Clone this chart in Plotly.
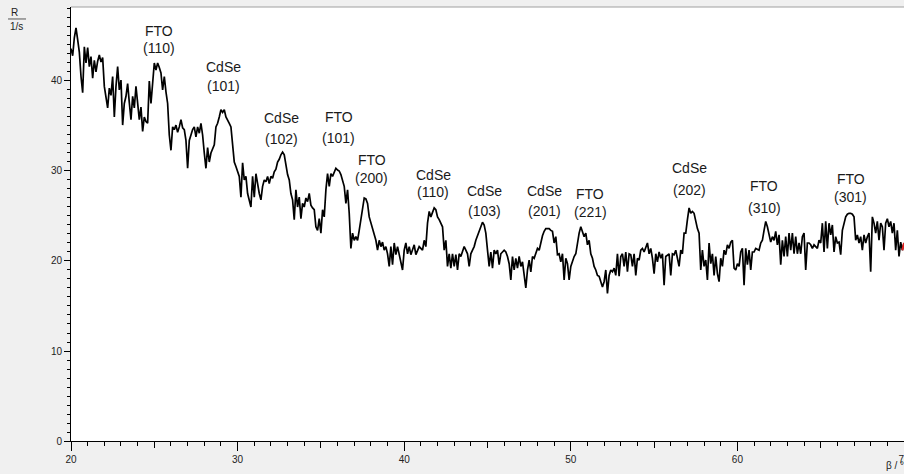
import plotly.graph_objects as go

# Diffraction scan: count rate R (1/s) sampled every 0.1 degree from 20.0 to 70.0
start_angle = 20.0
step_angle = 0.1
rate = [
    43.6, 42.8, 44.8, 45.9, 44.6, 43.2, 40.5, 38.7, 43.8, 42.0,   # 20
    43.7, 41.6, 42.7, 40.3, 42.3, 41.0, 42.2, 42.9, 42.1, 42.6,   # 21
    39.4, 38.2, 37.0, 39.2, 38.4, 40.5, 36.0, 39.4, 41.6, 39.0,   # 22
    40.1, 35.1, 37.5, 38.3, 39.7, 37.6, 35.7, 38.3, 37.0, 39.4,   # 23
    37.5, 35.7, 37.1, 34.4, 36.0, 35.5, 35.3, 40.0, 37.5, 40.2,   # 24
    42.0, 41.2, 42.0, 41.5, 40.9, 39.0, 40.5, 38.8, 37.5, 34.0,   # 25
    32.3, 34.9, 34.6, 35.1, 34.3, 34.9, 35.7, 34.8, 34.6, 33.4,   # 26
    30.3, 33.4, 34.0, 34.6, 34.9, 33.8, 34.9, 34.2, 35.3, 34.0,   # 27
    32.0, 30.3, 32.6, 31.0, 32.0, 32.4, 32.9, 34.9, 35.3, 36.0,   # 28
    36.8, 36.5, 36.8, 36.0, 35.7, 35.3, 34.9, 32.7, 31.0, 30.5,   # 29
    30.0, 29.4, 27.1, 30.9, 29.0, 29.4, 27.5, 26.8, 26.0, 29.4,   # 30
    27.1, 29.7, 28.3, 27.5, 26.8, 28.3, 29.0, 28.8, 29.4, 28.6,   # 31
    29.4, 29.2, 29.9, 30.2, 31.0, 31.3, 31.8, 32.1, 31.8, 30.5,   # 32
    29.6, 29.0, 27.5, 26.8, 24.6, 27.9, 26.0, 27.1, 24.7, 26.4,   # 33
    26.0, 27.0, 26.6, 27.5, 26.2, 25.9, 25.7, 23.8, 23.4, 24.7,   # 34
    23.1, 25.7, 24.9, 27.9, 29.7, 28.3, 29.7, 29.4, 29.9, 30.3,   # 35
    30.1, 30.0, 29.6, 28.9, 28.3, 26.4, 27.9, 25.3, 21.4, 23.1,   # 36
    22.3, 22.7, 22.3, 23.4, 24.6, 25.7, 27.0, 26.9, 26.4, 24.9,   # 37
    24.2, 23.8, 23.1, 22.3, 21.2, 22.3, 21.6, 22.1, 21.2, 21.6,   # 38
    20.8, 19.4, 21.6, 19.6, 22.0, 20.7, 21.6, 20.8, 20.0, 19.0,   # 39
    21.2, 22.0, 20.8, 21.6, 20.7, 21.2, 21.8, 20.7, 21.2, 21.6,   # 40
    21.4, 21.2, 22.3, 21.6, 24.2, 25.5, 24.9, 25.4, 25.9, 25.7,   # 41
    24.9, 24.6, 24.2, 23.8, 21.2, 22.3, 19.4, 20.8, 19.2, 20.8,   # 42
    19.4, 20.7, 19.0, 20.8, 20.5, 21.0, 21.6, 21.2, 20.8, 19.4,   # 43
    20.8, 21.2, 21.6, 22.3, 22.8, 23.4, 23.8, 24.3, 24.0, 23.1,   # 44
    21.2, 19.4, 21.0, 19.2, 21.2, 20.8, 21.2, 19.6, 20.8, 21.0,   # 45
    21.2, 21.0, 20.5, 19.7, 17.9, 20.5, 19.0, 20.3, 19.2, 20.5,   # 46
    19.4, 19.9, 18.3, 17.0, 19.0, 20.1, 18.8, 20.5, 20.3, 21.0,   # 47
    21.4, 21.2, 22.1, 22.8, 23.3, 23.6, 23.6, 23.6, 23.4, 23.3,   # 48
    22.0, 22.7, 20.7, 20.8, 19.9, 20.8, 17.9, 20.3, 19.7, 17.9,   # 49
    19.4, 20.1, 20.5, 20.8, 22.0, 23.1, 23.8, 23.3, 22.7, 23.1,   # 50
    21.8, 22.3, 20.8, 20.3, 19.4, 19.0, 18.4, 18.3, 17.7, 17.1,   # 51
    17.7, 19.0, 16.4, 18.4, 19.0, 18.8, 19.2, 18.4, 20.8, 18.3,   # 52
    20.5, 20.8, 19.4, 21.0, 18.8, 20.8, 20.7, 19.4, 20.8, 18.4,   # 53
    20.3, 20.1, 21.2, 21.4, 21.0, 21.6, 22.0, 20.8, 21.4, 20.3,   # 54
    18.6, 20.8, 19.9, 21.0, 20.3, 20.8, 17.3, 20.5, 20.7, 20.8,   # 55
    18.4, 20.8, 20.7, 21.2, 20.3, 19.4, 21.2, 20.8, 23.1, 23.1,   # 56
    24.6, 25.9, 25.3, 25.5, 25.3, 24.2, 23.6, 23.1, 19.0, 21.2,   # 57
    19.4, 20.1, 17.9, 22.0, 19.7, 20.8, 18.4, 20.5, 18.6, 17.7,   # 58
    20.3, 19.4, 21.2, 20.7, 21.8, 21.4, 22.1, 22.3, 19.2, 19.0,   # 59
    19.7, 19.4, 21.0, 21.4, 17.3, 21.4, 19.6, 21.2, 19.0, 21.0,   # 60
    21.0, 21.4, 21.3, 21.2, 22.0, 22.3, 23.4, 24.4, 23.8, 23.1,   # 61
    22.1, 22.7, 22.3, 23.3, 21.8, 22.9, 19.6, 22.3, 20.5, 22.7,   # 62
    20.5, 23.1, 21.2, 23.1, 20.8, 22.7, 20.8, 22.0, 20.8, 22.7,   # 63
    23.1, 19.0, 22.0, 22.0, 21.8, 21.4, 21.8, 21.6, 21.4, 22.3,   # 64
    22.0, 24.2, 21.0, 24.4, 21.4, 24.2, 22.9, 24.0, 21.0, 22.7,   # 65
    22.0, 22.1, 20.7, 23.4, 24.2, 24.9, 25.2, 25.3, 25.3, 25.2,   # 66
    24.9, 22.3, 22.9, 22.0, 22.7, 21.2, 22.9, 22.0, 22.7, 23.1,   # 67
    18.8, 24.9, 24.2, 23.1, 24.4, 22.3, 24.2, 23.8, 21.2, 24.2,   # 68
    24.7, 23.8, 24.4, 23.1, 24.2, 21.2, 23.4, 20.5, 22.1, 21.2,   # 69
    22.0,                                                         # 70
]
angle = [round(start_angle + step_angle * i, 2) for i in range(len(rate))]

# Reflection assignments: phase, Miller index and label centre (angle, name row, index row)
peak_phase = ["FTO", "CdSe", "CdSe", "FTO", "FTO", "CdSe",
              "CdSe", "CdSe", "FTO", "CdSe", "FTO", "FTO"]
peak_hkl = ["(110)", "(101)", "(102)", "(101)", "(200)", "(110)",
            "(103)", "(201)", "(221)", "(202)", "(310)", "(301)"]
label_angle = [25.31, 29.15, 32.66, 36.06, 38.04, 41.73,
               44.79, 48.42, 51.18, 57.12, 61.60, 66.79]
label_name_y = [45.6, 41.6, 35.9, 36.0, 31.2, 29.6,
                27.8, 27.8, 27.4, 30.3, 28.3, 29.1]
label_hkl_y = [43.7, 39.4, 33.6, 33.7, 29.2, 27.7,
               25.6, 25.6, 25.4, 27.9, 25.9, 27.1]

x_range = [20, 70]
y_range = [0, 48.22]

fig = go.Figure()
fig.add_trace(go.Scatter(
    x=angle, y=rate, mode="lines",
    line=dict(color="#000000", width=1.7),
    hoverinfo="skip", showlegend=False,
))
# cursor marker at the end of the scan, drawn on the secondary tick axis
fig.add_trace(go.Scatter(
    x=angle[-2:], y=rate[-2:], mode="lines", xaxis="x2",
    line=dict(color="#e02020", width=2),
    hoverinfo="skip", showlegend=False,
))

label_font = dict(family="Liberation Sans, Arial, sans-serif", size=14, color="#1a1a1a")
annotations = []
for ph, hkl, ax, ny, hy in zip(peak_phase, peak_hkl, label_angle, label_name_y, label_hkl_y):
    annotations.append(dict(x=ax, y=ny, xref="x", yref="y", text=ph,
                            xanchor="center", yanchor="middle",
                            showarrow=False, font=label_font))
    annotations.append(dict(x=ax, y=hy, xref="x", yref="y", text=hkl,
                            xanchor="center", yanchor="middle",
                            showarrow=False, font=label_font))

small_font = dict(family="Liberation Sans, Arial, sans-serif", size=10, color="#222222")
# axis captions: R over 1/s at the top left, beta / degree at the bottom right
annotations.append(dict(x=-0.0684, y=0.9862, xref="paper", yref="paper", text="R",
                        xanchor="center", yanchor="middle",
                        showarrow=False, font=small_font))
annotations.append(dict(x=-0.0650, y=0.9562, xref="paper", yref="paper", text="1/s",
                        xanchor="center", yanchor="middle",
                        showarrow=False, font=small_font))
annotations.append(dict(x=0.9760, y=-0.0576, xref="paper", yref="paper", text="β / °",
                        xanchor="left", yanchor="middle",
                        showarrow=False, font=small_font))

tick_font = dict(family="Liberation Sans, Arial, sans-serif", size=10, color="#222222")

fig.update_layout(
    width=904, height=474,
    margin=dict(l=71, r=0, t=7, b=33, autoexpand=False),
    paper_bgcolor="#f0f0f0",
    plot_bgcolor="#ffffff",
    showlegend=False,
    annotations=annotations,
    xaxis=dict(
        range=x_range, showgrid=False, zeroline=False,
        showline=True, linecolor="#000000", linewidth=1,
        ticks="outside", tick0=20, dtick=10, ticklen=9, tickcolor="#000000",
        minor=dict(ticks="outside", dtick=1, tick0=20, ticklen=4, tickcolor="#000000"),
        tickfont=tick_font, ticklabeloverflow="allow", automargin=False,
    ),
    xaxis2=dict(
        range=x_range, overlaying="x", anchor="y", side="bottom",
        showgrid=False, zeroline=False, showline=False,
        ticks="outside", tick0=20, dtick=5, ticklen=6, tickcolor="#000000",
        showticklabels=False, automargin=False,
    ),
    yaxis=dict(
        range=y_range, showgrid=False, zeroline=False,
        showline=True, linecolor="#000000", linewidth=1,
        ticks="outside", tick0=0, dtick=10, ticklen=6, tickcolor="#000000",
        minor=dict(ticks="outside", dtick=1, tick0=0, ticklen=3, tickcolor="#000000"),
        tickfont=tick_font, automargin=False,
    ),
    shapes=[
        # thin frame line along the top of the plotting area
        dict(type="line", xref="paper", yref="paper", x0=0, x1=1, y0=1, y1=1,
             line=dict(color="#a0a0a0", width=1)),
        # rule between quantity and unit in the y caption
        dict(type="line", xref="paper", yref="paper", x0=-0.0756, x1=-0.0540,
             y0=0.9724, y1=0.9724, line=dict(color="#555555", width=1)),
    ],
)

fig.write_html("out.html")
